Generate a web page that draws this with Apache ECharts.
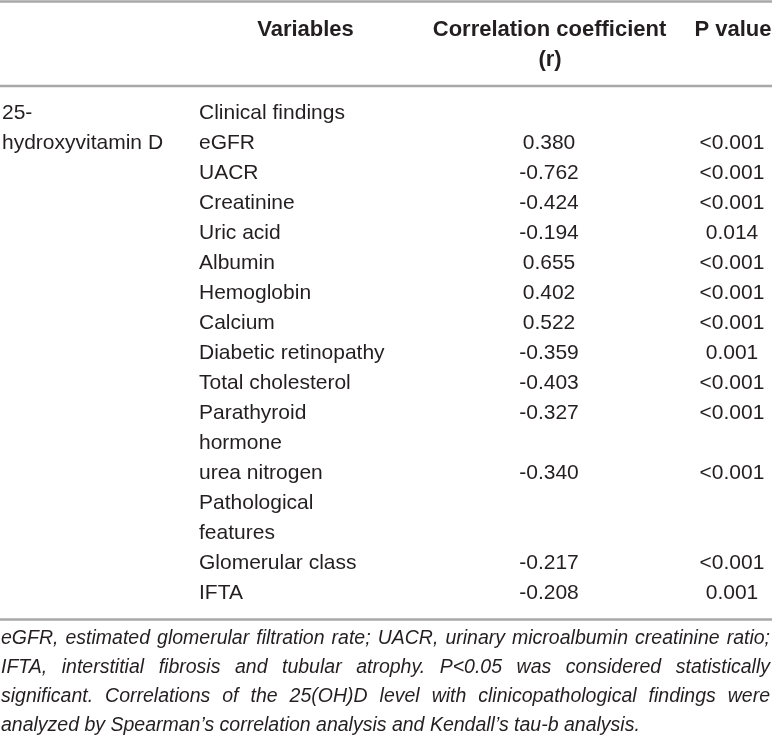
<!DOCTYPE html>
<html>
<head>
<meta charset="utf-8">
<script src="https://cdn.jsdelivr.net/npm/echarts@6/dist/echarts.min.js"></script>
<style>
  html, body { margin: 0; padding: 0; background: #fff; }
  #biao1 { width: 772px; height: 739px; }
</style>
</head>
<body>
<div id="biao1"></div>
<script>
// table data
var headers = ['Variables', 'Correlation coefficient', '(r)', 'P value'];
var rowGroup = ['25-', 'hydroxyvitamin D'];
var variables = ['Clinical findings', 'eGFR', 'UACR', 'Creatinine', 'Uric acid', 'Albumin',
  'Hemoglobin', 'Calcium', 'Diabetic retinopathy', 'Total cholesterol', 'Parathyroid\nhormone',
  'urea nitrogen', 'Pathological\nfeatures', 'Glomerular class', 'IFTA'];
var coefficients = [null, 0.380, -0.762, -0.424, -0.194, 0.655, 0.402, 0.522, -0.359,
  -0.403, -0.327, -0.340, null, -0.217, -0.208];
var pValues = ['', '<0.001', '<0.001', '<0.001', '0.014', '<0.001', '<0.001', '<0.001',
  '0.001', '<0.001', '<0.001', '<0.001', '', '<0.001', '0.001'];
var footnote = [
  'eGFR, estimated glomerular filtration rate; UACR, urinary microalbumin creatinine ratio;',
  'IFTA, interstitial fibrosis and tubular atrophy. P<0.05 was considered statistically',
  'significant. Correlations of the 25(OH)D level with clinicopathological findings were',
  'analyzed by Spearman\u2019s correlation analysis and Kendall\u2019s tau-b analysis.'
];

var FONT = '"Liberation Sans", Arial, Helvetica, sans-serif';
var INK = '#231f20';
var RULE = '#a8a8a8';
// column x positions (px, x axis runs 0..772)
var X_GROUP = 2, X_VAR = 199, X_R = 549, X_P = 732;

// build the cells: [x, lineIndex], with text + align kept alongside
var cells = [];
var line = 0;
rowGroup.forEach(function (t, i) {
  cells.push({ value: [X_GROUP, i], text: t, align: 'left' });
});
variables.forEach(function (v, i) {
  var parts = v.split('\n');
  parts.forEach(function (p, k) {
    cells.push({ value: [X_VAR, line + k], text: p, align: 'left' });
  });
  if (coefficients[i] !== null) {
    cells.push({ value: [X_R, line], text: coefficients[i].toFixed(3), align: 'center' });
  }
  if (pValues[i]) {
    cells.push({ value: [X_P, line], text: pValues[i], align: 'center' });
  }
  line += parts.length;
});
var lineCats = [];
for (var i = 0; i < line; i++) lineCats.push(String(i));

// justified footnote
var ctx = document.createElement('canvas').getContext('2d');
var FOOT_SIZE = 19.5;
ctx.font = 'italic ' + FOOT_SIZE + 'px "Liberation Sans"';
var footBase = [646, 675, 704, 733];
var footEls = [];
footnote.forEach(function (l, li) {
  var words = l.split(' ');
  var widths = words.map(function (w) { return ctx.measureText(w).width; });
  var sum = widths.reduce(function (a, b) { return a + b; }, 0);
  var last = li === footnote.length - 1;
  var gap = last ? ctx.measureText(' ').width : (770 - 1 - sum) / (words.length - 1);
  var x = 1;
  words.forEach(function (w, k) {
    footEls.push({
      type: 'text', x: x, y: footBase[li] - 7, silent: true,
      style: { text: w, font: 'italic ' + FOOT_SIZE + 'px ' + FONT, fill: INK, align: 'left', verticalAlign: 'middle' }
    });
    x += widths[k] + gap;
  });
});

function headText(t, x, y) {
  return {
    type: 'text', x: x, y: y, silent: true,
    style: { text: t, font: 'bold 22px ' + FONT, fill: INK, align: 'center', verticalAlign: 'middle' }
  };
}
function rule(y) {
  return { type: 'line', silent: true, shape: { x1: 0, y1: y, x2: 772, y2: y }, style: { stroke: RULE, lineWidth: 2.5 } };
}

var dom = document.getElementById('biao1');
var myChart = echarts.init(dom, null, { renderer: 'canvas' });

var option = {
  animation: false,
  grid: { left: 0, right: 0, top: 98, bottom: 130.5 },
  xAxis: { type: 'value', min: 0, max: 772, show: false },
  yAxis: { type: 'category', data: lineCats, inverse: true, show: false },
  series: [{
    type: 'custom',
    silent: true,
    data: cells.map(function (c) { return c.value; }),
    renderItem: function (params, api) {
      var c = cells[params.dataIndex];
      var p = api.coord([api.value(0), api.value(1)]);
      return {
        type: 'text', x: p[0], y: p[1],
        style: { text: c.text, font: '21px ' + FONT, fill: INK, align: c.align, verticalAlign: 'middle' }
      };
    }
  }],
  graphic: [
    rule(1.5), rule(86), rule(619.5),
    headText(headers[0], 305.5, 30),
    headText(headers[1], 549.5, 30),
    headText(headers[2], 550, 60),
    headText(headers[3], 733, 30)
  ].concat(footEls)
};

if (option && typeof option === 'object') {
  myChart.setOption(option);
}
window.addEventListener('resize', myChart.resize);
</script>
</body>
</html>
